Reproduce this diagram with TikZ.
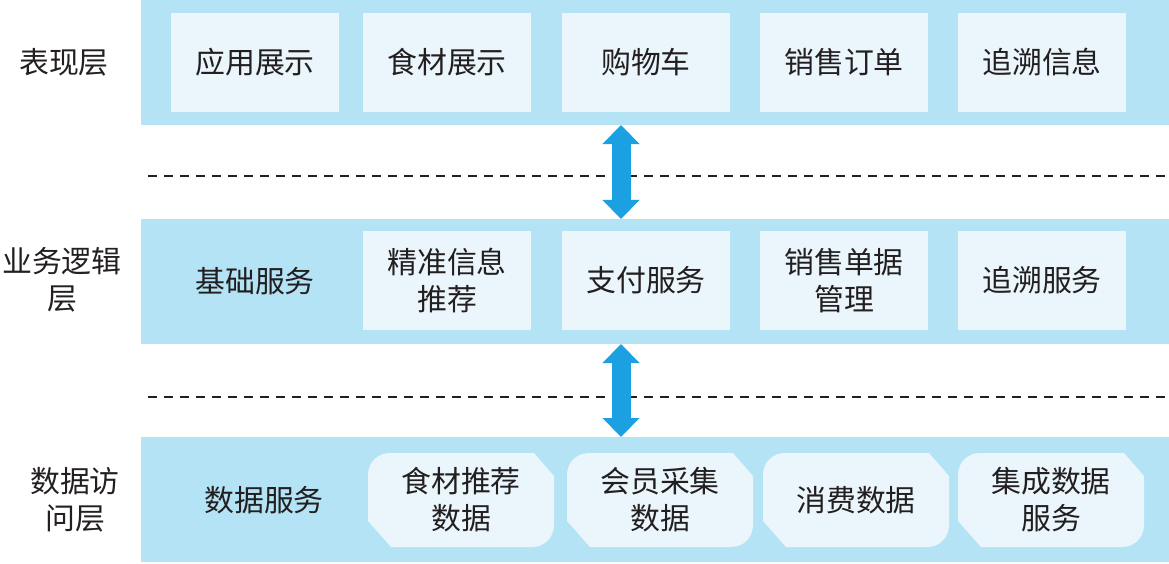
\documentclass[tikz,border=0pt]{standalone}
\usepackage{fontspec}
\setmainfont{Noto Sans CJK SC}
\usetikzlibrary{arrows.meta}
\definecolor{bandblue}{HTML}{B3E3F5}
\definecolor{boxblue}{HTML}{EAF6FC}
\definecolor{arrowblue}{HTML}{1BA0E2}
\definecolor{textgray}{HTML}{231F20}

\begin{document}
\begin{tikzpicture}[x=1bp, y=-1bp,
   every node/.style={inner sep=0, outer sep=0, text=textgray,
     font=\fontsize{30}{37}\selectfont, align=center},
   band/.style={fill=bandblue, anchor=north west,
     minimum width=1028bp, minimum height=125bp},
   box/.style={fill=boxblue, minimum width=168bp, minimum height=99bp},
   databox/.style={minimum width=187bp, minimum height=94bp},
   sepline/.style={draw=textgray, line width=1.6bp, dash pattern=on 9bp off 7bp},
   updown/.style={arrowblue, line width=19bp,
     {Triangle[width=36bp,length=19bp]}-{Triangle[width=36bp,length=19bp]}}]

\useasboundingbox (0,0) rectangle (1169,564);

% layers
\node[band] (pres) at (141,0) {};
\node[band] (biz) at (141,219) {};
\node[band] (data) at (141,437) {};

\node (lpres) at (64,62) {表现层};
\node (lbiz) at (62,280) {业务逻辑\\层};
\node (ldata) at (75,500) {数据访\\问层};

% presentation
\foreach \x/\t [count=\i] in {255/应用展示, 447/食材展示, 646/购物车,
                              844/销售订单, 1042/追溯信息}
  \node[box] (p\i) at (\x,62.5) {\t};

% business logic
\node (b1) at (255,281) {基础服务};
\foreach \x/\t [count=\i from 2] in {447/{精准信息\\推荐}, 646/支付服务,
                                     844/{销售单据\\管理}, 1042/追溯服务}
  \node[box] (b\i) at (\x,280.5) {\t};

% data access
\node (d1) at (264,500) {数据服务};
\foreach \x/\t [count=\i from 2] in {461/{食材推荐\\数据}, 660/{会员采集\\数据},
                                     856/消费数据, 1051/{集成数据\\服务}} {
  \fill[boxblue] (\x-93,475) .. controls (\x-93,462) and (\x-83,453) .. (\x-71,453)
    -- (\x+73,453) -- (\x+93,476) -- (\x+93,525)
    .. controls (\x+93,537) and (\x+84,547) .. (\x+71,547)
    -- (\x-70,547) -- (\x-93,521) -- cycle;
  \node[databox] (d\i) at (\x,500) {\t};
}

\draw[sepline] (148,176) -- (1169,176);
\draw[sepline] (148,397) -- (1169,397);

\coordinate (ax) at (621,0);
\draw[updown] (pres.south -| ax) -- (biz.north -| ax);
\draw[updown] (biz.south -| ax) -- (data.north -| ax);

\end{tikzpicture}
\end{document}
